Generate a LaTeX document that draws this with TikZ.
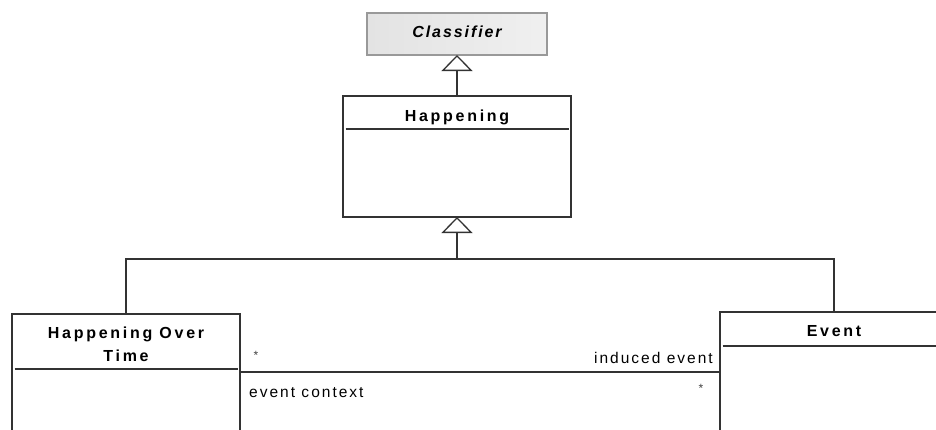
\documentclass[tikz,border=0pt]{standalone}
\usepackage{fontspec}
\setmainfont{Liberation Sans}
\newfontfamily\titlefont[LetterSpace=17]{Liberation Sans}
\newfontfamily\abstractfont[LetterSpace=12]{Liberation Sans}
\newfontfamily\labelfont[LetterSpace=13]{Liberation Sans}
\usetikzlibrary{arrows.meta}

\begin{document}
\begin{tikzpicture}[x=1pt,y=-1pt,
  umlbox/.style={draw=black!80, line width=1.4pt, fill=white,
    anchor=north west, inner sep=0pt, outer sep=0pt},
  abstractbox/.style={draw=black!40, line width=1.2pt,
    left color=black!11, middle color=black!3, right color=black!6,
    anchor=north west, inner sep=0pt, outer sep=0pt},
  rule/.style={draw=black!80, line width=1.4pt},
  conn/.style={draw=black!80, line width=1.4pt},
  gen/.style={conn, -{Triangle[open, length=16pt, width=31pt, line width=1.3pt, fill=white]}},
  titletext/.style={font=\titlefont\bfseries\fontsize{16}{23}\selectfont,
    inner sep=0pt, align=center},
  rolelabel/.style={font=\labelfont\fontsize{15.5}{17}\selectfont, inner sep=0pt},
  mult/.style={font=\fontsize{12}{13}\selectfont, inner sep=0pt, text=black!75}]

\useasboundingbox (0,0) rectangle (936,429);
\clip (0,0) rectangle (936,429);

% class boxes
\node[abstractbox, minimum width=180pt, minimum height=42pt] (cls) at (367,13) {};
\node[umlbox, minimum width=228pt, minimum height=121pt] (hap) at (343,96) {};
\node[umlbox, minimum width=228pt, minimum height=200pt] (hot) at (12,314) {};
\node[umlbox, minimum width=228pt, minimum height=200pt] (ev) at (720,312) {};

% name compartments
\draw[rule] ([xshift=2.5pt]hap.west |- 0,129) -- ([xshift=-2.5pt]hap.east |- 0,129);
\draw[rule] ([xshift=2.5pt]hot.west |- 0,369) -- ([xshift=-2.5pt]hot.east |- 0,369);
\draw[rule] ([xshift=2.5pt]ev.west |- 0,346) -- ([xshift=-2.5pt]ev.east |- 0,346);

% class names
\node[titletext, anchor=base, font=\abstractfont\bfseries\itshape\fontsize{16}{23}\selectfont] (clsname) at (cls.center |- 0,37) {Classifier};
\node[titletext, anchor=base] (hapname) at (hap.center |- 0,121) {Happening};
\node[titletext, anchor=base] (hotname) at (hot.center |- 0,361) {Happening Over\\Time};
\node[titletext, anchor=base] (evname) at (ev.center |- 0,336) {Event};

% generalizations
\draw[gen] (hap.north) -- (cls.south);
\coordinate (fork) at (hap.south |- 0,259);
\draw[conn] (hot.north) |- (fork) -| (ev.north);
\draw[gen] (fork) -- (hap.south);

% association between Happening Over Time and Event
\coordinate (assocL) at (hot.north east |- 0,372);
\coordinate (assocR) at (ev.north west |- 0,372);
\draw[conn] (assocL) -- (assocR);

\node[rolelabel, anchor=base west] (ctx) at (249,397) {event context};
\node[rolelabel, anchor=base east] (ind) at (713,363) {induced event};
\node[mult, anchor=north] (multL) at (256,351) {*};
\node[mult, anchor=north] (multR) at (701,384) {*};

\end{tikzpicture}
\end{document}
